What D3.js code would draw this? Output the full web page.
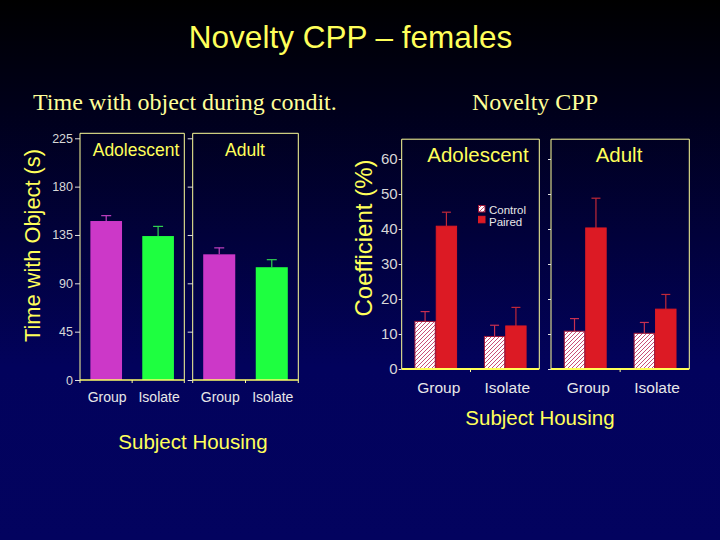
<!DOCTYPE html>
<html><head><meta charset="utf-8">
<script src="https://cdn.jsdelivr.net/npm/d3@7"></script>
<style>html,body{margin:0;padding:0;background:#000;}svg{display:block;}</style>
</head><body>
<svg id="c" width="720" height="540"></svg>
<script>
// ---------------- DATA ----------------
const housing = ["Group", "Isolate"];
const ages = ["Adolescent", "Adult"];
// Left chart: time with object during conditioning (s)
const timeMean = { Adolescent: [148, 134], Adult: [117, 105] };
const timeSem  = { Adolescent: [5, 9],     Adult: [6, 7] };
const timeTicks = [0, 45, 90, 135, 180, 225];
// Right chart: Novelty CPP coefficient (%)
const conditions = ["Control", "Paired"];
const controlMean = { Adolescent: [13.6, 9.3], Adult: [10.8, 10.2] };
const controlSem  = { Adolescent: [2.8, 3.2],  Adult: [3.6, 3.1] };
const pairedMean  = { Adolescent: [40.8, 12.3], Adult: [40.3, 17.1] };
const pairedSem   = { Adolescent: [4.0, 5.3],  Adult: [8.5, 4.2] };
const coefTicks = [0, 10, 20, 30, 40, 50, 60];

// ---------------- DRAW ----------------
const svg = d3.select("#c");
const defs = svg.append("defs");
const grad = defs.append("linearGradient").attr("id", "bg").attr("x1", 0).attr("y1", 0).attr("x2", 0).attr("y2", 1);
grad.append("stop").attr("offset", "0").attr("stop-color", "#000000");
grad.append("stop").attr("offset", "0.2").attr("stop-color", "#00001a");
grad.append("stop").attr("offset", "0.68").attr("stop-color", "#02025c");
grad.append("stop").attr("offset", "1").attr("stop-color", "#03035f");
svg.append("rect").attr("width", 720).attr("height", 540).attr("fill", "url(#bg)");

const pat = defs.append("pattern").attr("id", "hatch").attr("patternUnits", "userSpaceOnUse")
  .attr("width", 4).attr("height", 4);
pat.append("rect").attr("width", 4).attr("height", 4).attr("fill", "#ffffff");
pat.append("path").attr("d", "M-1,1 l2,-2 M0,4 l4,-4 M3,5 l2,-2")
  .attr("stroke", "#c85078").attr("stroke-width", 1);

const SANS = "'Liberation Sans', Arial, sans-serif";
const SERIF = "'Liberation Serif', 'Times New Roman', serif";
const YEL = "#ffff5a";

// Title
svg.append("text").attr("x", 350.5).attr("y", 48).attr("text-anchor", "middle")
  .attr("font-family", SANS).attr("font-size", 31.5).attr("fill", YEL).text("Novelty CPP – females");
svg.append("text").attr("x", 33).attr("y", 110)
  .attr("font-family", SERIF).attr("font-size", 24).attr("fill", "#ffff99").text("Time with object during condit.");
svg.append("text").attr("x", 472).attr("y", 110)
  .attr("font-family", SERIF).attr("font-size", 24).attr("fill", "#ffff99").text("Novelty CPP");

function styleAxis(g, color, size) {
  g.select(".domain").remove();
  g.selectAll(".tick line").attr("stroke", "#e0e0e0").attr("stroke-width", 1);
  g.selectAll(".tick text").attr("fill", color).attr("font-family", SANS).attr("font-size", size);
}

// ---------- LEFT CHART ----------
const yL = d3.scaleLinear().domain([0, 225]).range([380, 138.3]);
const leftPanels = { Adolescent: [80, 184.3], Adult: [192.7, 298.3] };
const leftColors = ["#cc38c8", "#1eff40"];
const leftErrColors = ["#c040c0", "#30d050"];
const leftTop = 133.3;

ages.forEach((age, ai) => {
  const [x0, x1] = leftPanels[age];
  const xb = d3.scaleBand().domain(housing).range([x0, x1]).paddingInner(0.39).paddingOuter(0.2);
  const g = svg.append("g");
  housing.forEach((h, i) => {
    const v = timeMean[age][i], e = timeSem[age][i];
    const bx = xb(h), bw = xb.bandwidth(), cx = bx + bw / 2;
    g.append("line").attr("x1", cx).attr("x2", cx).attr("y1", yL(v)).attr("y2", yL(v + e))
      .attr("stroke", leftErrColors[i]).attr("stroke-width", 1.2);
    g.append("line").attr("x1", cx - 5).attr("x2", cx + 5).attr("y1", yL(v + e)).attr("y2", yL(v + e))
      .attr("stroke", leftErrColors[i]).attr("stroke-width", 1.2);
    g.append("rect").attr("x", bx).attr("y", yL(v)).attr("width", bw).attr("height", yL(0) - yL(v))
      .attr("fill", leftColors[i]);
    g.append("text").attr("x", cx + 1).attr("y", 402).attr("text-anchor", "middle")
      .attr("font-family", SANS).attr("font-size", 14).attr("fill", "#e8e8e8").text(h);
  });
  g.append("path").attr("d", `M${x0},${yL(0)}V${leftTop}H${x1}V${yL(0)}`)
    .attr("fill", "none").attr("stroke", "#ffff99").attr("stroke-width", 1);
  g.append("line").attr("x1", x0).attr("x2", x1).attr("y1", yL(0)).attr("y2", yL(0))
    .attr("stroke", "#ffff66").attr("stroke-width", 1.5);
  const mid = xb("Isolate") - xb.step() * xb.paddingInner() / 2;
  [x0, mid, x1].forEach(tx => g.append("line").attr("x1", tx).attr("x2", tx)
    .attr("y1", yL(0)).attr("y2", yL(0) + 3).attr("stroke", "#ffff99"));
  const ax = d3.axisLeft(yL).tickValues(timeTicks).tickSize(5).tickPadding(2);
  if (ai > 0) ax.tickFormat("");
  const ag = svg.append("g").attr("transform", `translate(${x0},0)`).call(ax);
  styleAxis(ag, "#d8d8d8", 12.5);
  g.append("text").attr("x", ai === 0 ? 136 : 245).attr("y", 156).attr("text-anchor", "middle")
    .attr("font-family", SANS).attr("font-size", 17.5).attr("fill", YEL).text(age);
});
svg.append("text").attr("transform", "translate(40,245.5) rotate(-90)").attr("text-anchor", "middle")
  .attr("font-family", SANS).attr("font-size", 21.8).attr("fill", YEL).text("Time with Object (s)");
svg.append("text").attr("x", 193).attr("y", 449).attr("text-anchor", "middle")
  .attr("font-family", SANS).attr("font-size", 20.5).attr("fill", YEL).text("Subject Housing");

// ---------- RIGHT CHART ----------
const yR = d3.scaleLinear().domain([0, 60]).range([369, 159]);
const rightPanels = { Adolescent: [401.7, 539.3], Adult: [551, 689.3] };
const rightTop = 139.2;
const condFill = ["url(#hatch)", "#dc1a24"];
const condStroke = ["#a01838", "#dc1a24"];
const condErr = ["#c83050", "#c02838"];

ages.forEach((age, ai) => {
  const [x0, x1] = rightPanels[age];
  const xo = d3.scaleBand().domain(housing).range([x0, x1]).paddingInner(0.386).paddingOuter(0.183);
  const xi = d3.scaleBand().domain(conditions).range([0, xo.bandwidth()]);
  const g = svg.append("g");
  housing.forEach((h, i) => {
    conditions.forEach((c, ci) => {
      const v = (ci === 0 ? controlMean : pairedMean)[age][i];
      const e = (ci === 0 ? controlSem : pairedSem)[age][i];
      const bx = xo(h) + xi(c), bw = xi.bandwidth(), cx = bx + bw / 2;
      g.append("line").attr("x1", cx).attr("x2", cx).attr("y1", yR(v)).attr("y2", yR(v + e))
        .attr("stroke", condErr[ci]).attr("stroke-width", 1.2);
      g.append("line").attr("x1", cx - 4.5).attr("x2", cx + 4.5).attr("y1", yR(v + e)).attr("y2", yR(v + e))
        .attr("stroke", condErr[ci]).attr("stroke-width", 1.2);
      g.append("rect").attr("x", bx + 0.5).attr("y", yR(v)).attr("width", bw - 1).attr("height", yR(0) - yR(v))
        .attr("fill", condFill[ci]).attr("stroke", condStroke[ci]).attr("stroke-width", 1);
    });
    g.append("text").attr("x", xo(h) + xo.bandwidth() / 2 + (i === 0 ? 3 : 2)).attr("y", 393).attr("text-anchor", "middle")
      .attr("font-family", SANS).attr("font-size", 15.5).attr("fill", "#e8e8e8").text(h);
  });
  g.append("path").attr("d", `M${x0},${yR(0)}V${rightTop}H${x1}V${yR(0)}`)
    .attr("fill", "none").attr("stroke", "#ffff99").attr("stroke-width", 1);
  g.append("line").attr("x1", x0).attr("x2", x1).attr("y1", yR(0)).attr("y2", yR(0))
    .attr("stroke", "#ffff55").attr("stroke-width", 2);
  const mid = xo("Isolate") - xo.step() * xo.paddingInner() / 2;
  [mid].forEach(tx => g.append("line").attr("x1", tx).attr("x2", tx)
    .attr("y1", yR(0)).attr("y2", yR(0) + 3).attr("stroke", "#ffff99"));
  const ax = d3.axisLeft(yR).tickValues(coefTicks).tickSize(3).tickPadding(1);
  if (ai > 0) ax.tickFormat("");
  const ag = svg.append("g").attr("transform", `translate(${x0},0)`).call(ax);
  styleAxis(ag, "#d8d8d8", 15);
  g.append("text").attr("x", ai === 0 ? 478 : 619).attr("y", 162).attr("text-anchor", "middle")
    .attr("font-family", SANS).attr("font-size", 20.5).attr("fill", YEL).text(age);
});

// legend
const leg = svg.append("g").attr("transform", "translate(478,205)");
conditions.forEach((c, i) => {
  leg.append("rect").attr("x", 0.5).attr("y", i * 10.8 + 0.5).attr("width", 6.5).attr("height", 6.5)
    .attr("fill", condFill[i]).attr("stroke", condStroke[i]).attr("stroke-width", 1);
  leg.append("text").attr("x", 11).attr("y", i * 11.5 + 9).attr("font-family", SANS)
    .attr("font-size", 11.5).attr("fill", "#e8e8e8").text(c);
});

svg.append("text").attr("transform", "translate(372,238) rotate(-90)").attr("text-anchor", "middle")
  .attr("font-family", SANS).attr("font-size", 24).attr("fill", YEL).text("Coefficient (%)");
svg.append("text").attr("x", 540).attr("y", 425).attr("text-anchor", "middle")
  .attr("font-family", SANS).attr("font-size", 20.5).attr("fill", YEL).text("Subject Housing");
</script>
</body></html>
